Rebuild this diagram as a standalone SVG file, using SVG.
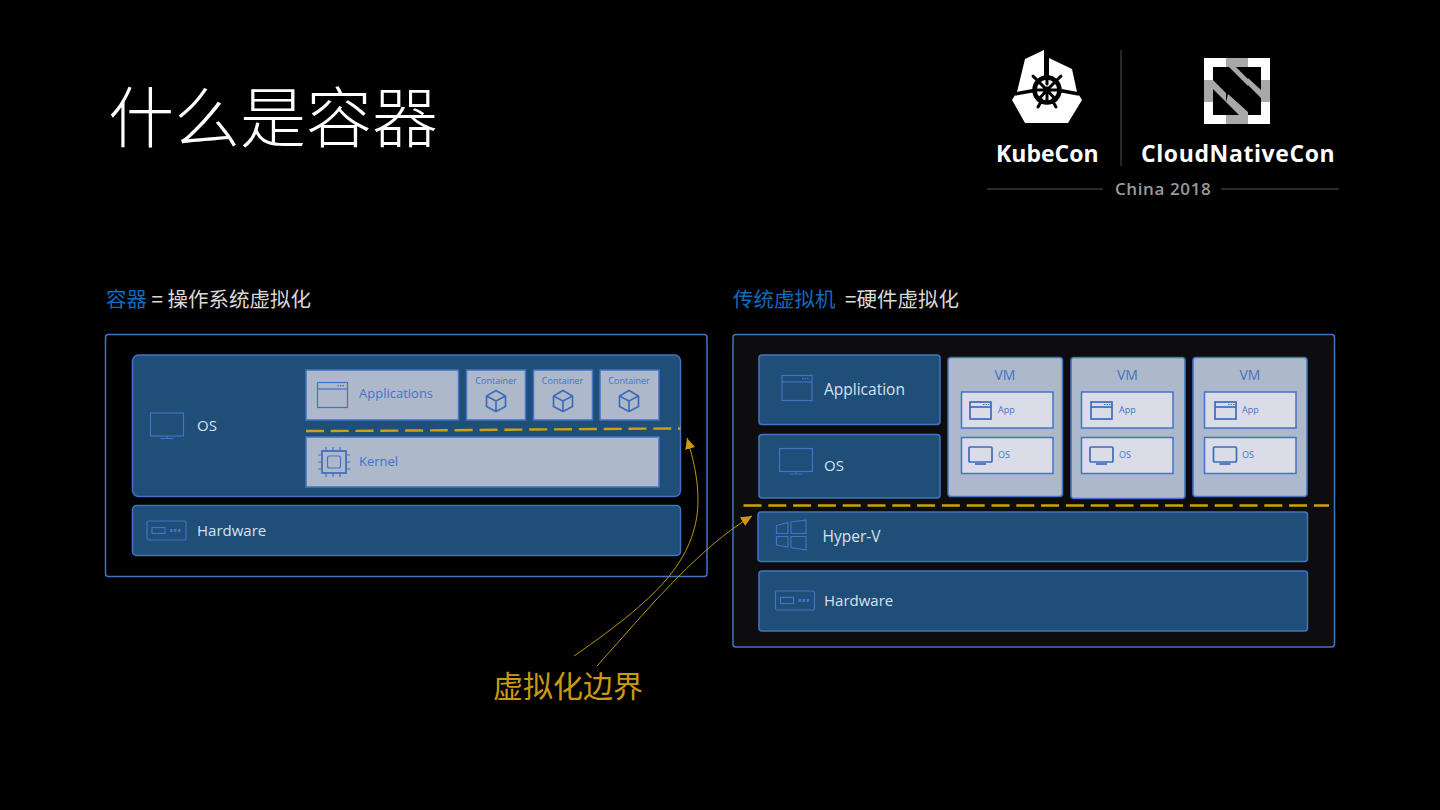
<svg xmlns="http://www.w3.org/2000/svg" width="1440" height="810" viewBox="0 0 1440 810">
<style>
text{font-family:"Open Sans","Noto Sans","Noto Sans CJK SC",sans-serif}
.cjk{font-family:"Noto Sans CJK SC","Noto Sans",sans-serif}
.b{fill:#1f4e79;stroke:#4472c4;stroke-width:1.5}
.g{fill:#adb9ca;stroke:#4472c4;stroke-width:1.5}
.l{fill:#dadde8;stroke:#4472c4;stroke-width:1.5}
.frame{stroke:#4472c4;stroke-width:1.5}
.wt{fill:#d9e2ec;font-size:15px}
.bt{fill:#4472c4;font-size:13px}
.ct{fill:#4472c4;font-size:9px;text-anchor:middle}
.vt{fill:#4472c4;font-size:14px;text-anchor:middle}
.st{fill:#4472c4;font-size:9px}
.ic{fill:none;stroke:#4472c4;stroke-width:1.2}
.ich{fill:none;stroke:#3f6cb8;stroke-width:1.7}
.dash{fill:none;stroke:#cfa010;stroke-width:2.400;stroke-dasharray:18 6.800}
.lead{fill:none;stroke:#b8960f;stroke-width:1}
</style>
<defs>
<marker id="ah" markerWidth="12" markerHeight="12" refX="11" refY="5" orient="auto" markerUnits="userSpaceOnUse"><path d="M0 0L11 5L0 10Z" fill="#c99a10"/></marker>
<g id="win"><rect x="0" y="0" width="30" height="25" class="ic"/><path d="M0 6.500H30" class="ic"/><path d="M20 3.200h7" class="ic" stroke-width="2" stroke-dasharray="1.500 1"/></g>
<g id="winh"><rect x="0" y="0" width="21" height="17" class="ich"/><path d="M0 5H21" class="ich"/><path d="M13 2.500h7" class="ic" stroke-width="2" stroke-dasharray="1.500 1"/></g>
<g id="mon"><rect x="0" y="0" width="33" height="23" class="ic"/><path d="M10 25.500H23M16.500 23V25.500" class="ic"/></g>
<g id="monh"><rect x="0" y="0" width="23" height="15" rx="1" class="ich"/><path d="M6 17H17" class="ich" stroke-width="2"/></g>
<g id="hw"><rect x="0" y="0" width="39" height="19" rx="1.500" class="ic"/><rect x="5" y="6.500" width="13" height="6" class="ic"/><path d="M23 9.500h11" fill="none" stroke="#4472c4" stroke-width="3" stroke-dasharray="2.500 1.500"/></g>
<g id="cube"><path d="M0 5.500L9.500 0L19 5.500V16L9.500 21L0 16ZM0 5.500L9.500 10.500L19 5.500M9.500 10.500V21" class="ich"/></g>
</defs>
<rect width="1440" height="810" fill="#000"/>

<g id="title">
<text class="cjk" x="108" y="142" font-size="66" font-weight="300" fill="#fff">什么是容器</text>
</g>

<g id="logo">
<path d="M1044 50L1025 59L1017 92L1012 100L1025 123H1068L1082 100L1077 92L1072 69L1049 58L1049 76H1044Z" fill="#fff"/>
<path d="M1046.500 50V72M1015 94L1034 90.500M1079 94L1060 90.500" stroke="#000" stroke-width="3.500" fill="none"/>
<circle cx="1047" cy="90" r="12.500" fill="#fff" stroke="#000" stroke-width="4.500"/>
<path d="M1033 76L1040 83M1061 76L1054 83M1038 107L1042 100M1056 107L1052 100M1047 72V84M1034 90H1060M1047 90V102M1047 90L1038 100M1047 90L1056 100M1047 90L1038 81M1047 90L1056 81" stroke="#000" stroke-width="3" fill="none" stroke-linecap="round"/>
<circle cx="1047" cy="90" r="3.500" fill="#000"/>
<path d="M1121 50V166" stroke="#444" stroke-width="1.200"/>
<rect x="1204" y="58" width="66" height="66" fill="#fff"/>
<rect x="1226" y="58" width="22" height="66" fill="#a8a8a8"/>
<rect x="1204" y="80" width="66" height="22" fill="#a8a8a8"/>
<rect x="1213" y="67" width="48" height="48" fill="#000"/>
<path d="M1229 67L1248 86V79L1236 67ZM1213 80L1226 93V102L1213 89ZM1248 85L1261 98V90L1248 78ZM1226 102L1239 115H1248V112L1228 94Z" fill="#a8a8a8"/>
<text x="996" y="162" font-size="23" font-weight="700" fill="#fff">KubeCon</text>
<text x="1141" y="162" font-size="23" font-weight="700" fill="#fff" letter-spacing=".6">CloudNativeCon</text>
<text x="1115" y="195" font-size="17" font-weight="600" fill="#9a9a9a" letter-spacing=".6">China 2018</text>
<path d="M987 189H1103M1221 189H1339" stroke="#555" stroke-width="1"/>
</g>

<g id="heading-left"><text class="cjk" x="106" y="307" font-size="20.500" fill="#d9d9d9"><tspan fill="#0f6cbd">容器</tspan> = 操作系统虚拟化</text></g>
<g id="heading-right"><text class="cjk" x="733" y="307" font-size="20.500" fill="#d9d9d9"><tspan fill="#0f6cbd">传统虚拟机</tspan><tspan x="845">=硬件虚拟化</tspan></text></g>

<g id="container-panel"><rect x="105.500" y="334.500" width="601.500" height="242" rx="3" fill="#000" class="frame"/></g>
<g id="vm-panel"><rect x="733" y="334.500" width="601.500" height="312.500" rx="3" fill="#0d0d0f" class="frame"/></g>

<g id="left-os"><rect x="132.500" y="355" width="548" height="141.500" rx="6" class="b"/><use href="#mon" x="150.500" y="413"/><text class="wt" x="197" y="431">OS</text></g>
<g id="left-apps"><rect x="306" y="370" width="152.500" height="50" class="g"/><use href="#win" x="317.500" y="382.500"/><text class="bt" x="359" y="398">Applications</text></g>
<g id="c1"><rect x="466.500" y="370" width="59" height="50" class="g"/><text class="ct" x="496" y="384">Container</text><use href="#cube" x="486.500" y="390.500"/></g>
<g id="c2"><rect x="533.500" y="370" width="59" height="50" class="g"/><text class="ct" x="562.500" y="384">Container</text><use href="#cube" x="553.500" y="390.500"/></g>
<g id="c3"><rect x="600" y="370" width="59" height="50" class="g"/><text class="ct" x="629" y="384">Container</text><use href="#cube" x="619.500" y="390.500"/></g>
<g id="kernel"><rect x="306" y="437" width="353" height="50" class="g"/>
<rect x="322" y="451" width="24" height="22" class="ich"/><rect x="327.500" y="456" width="13" height="12" rx="2" class="ic"/>
<path d="M326 447V451M333 447V451M340 447V451M326 473V477M333 473V477M340 473V477M318 455H322M318 462H322M318 469H322M346 455H350M346 462H350M346 469H350" class="ic"/>
<text class="bt" x="359" y="466">Kernel</text></g>
<g id="left-hw"><rect x="132.500" y="505.500" width="548" height="50" rx="4" class="b"/><use href="#hw" x="147" y="521"/><text class="wt" x="197" y="536">Hardware</text></g>

<g id="right-app"><rect x="759" y="355" width="181" height="69.500" rx="3" class="b"/><use href="#win" x="782" y="375.500"/><text class="wt" x="824" y="395" style="font-size:15.500px">Application</text></g>
<g id="right-os"><rect x="759" y="434.500" width="181" height="63.500" rx="3" class="b"/><use href="#mon" x="779.500" y="448.500"/><text class="wt" x="824" y="471">OS</text></g>
<g id="vm1"><rect x="948" y="357.500" width="114.500" height="139" rx="3" class="g"/><text class="vt" x="1005" y="380">VM</text>
<rect x="961.500" y="392" width="91.500" height="36" class="l"/><use href="#winh" x="970" y="402"/><text class="st" x="998" y="413">App</text>
<rect x="961.500" y="437.500" width="91.500" height="36" class="l"/><use href="#monh" x="969" y="447"/><text class="st" x="998" y="458">OS</text></g>
<g id="vm2"><rect x="1071" y="357.500" width="114" height="141" rx="3" class="g"/><text class="vt" x="1127.500" y="380">VM</text>
<rect x="1081.500" y="392" width="91.500" height="36" class="l"/><use href="#winh" x="1091" y="402"/><text class="st" x="1119" y="413">App</text>
<rect x="1081.500" y="437.500" width="91.500" height="36" class="l"/><use href="#monh" x="1090" y="447"/><text class="st" x="1119" y="458">OS</text></g>
<g id="vm3"><rect x="1193" y="357.500" width="114" height="139" rx="3" class="g"/><text class="vt" x="1250" y="380">VM</text>
<rect x="1204.500" y="392" width="91.500" height="36" class="l"/><use href="#winh" x="1215" y="402"/><text class="st" x="1242" y="413">App</text>
<rect x="1204.500" y="437.500" width="91.500" height="36" class="l"/><use href="#monh" x="1213.500" y="447"/><text class="st" x="1242" y="458">OS</text></g>
<g id="hyperv"><rect x="758" y="512" width="549.500" height="49.500" rx="3" class="b"/>
<path d="M776.500 525.500L788 522.500V533.500H776.500ZM791 522L806 520V533.500H791ZM776.500 536.500H788V547L776.500 545ZM791 536.500H806V550L791 547.500Z" class="ic"/>
<text class="wt" x="822.500" y="542" style="font-size:15.500px">Hyper-V</text></g>
<g id="right-hw"><rect x="759" y="571" width="548.500" height="60" rx="3" class="b"/><use href="#hw" x="775.500" y="591"/><text class="wt" x="824" y="606">Hardware</text></g>

<g id="connectors">
<path d="M306 431C400 431 560 429 680.500 428.500" class="dash"/>
<path d="M743.500 505.500H1329" class="dash"/>
<path d="M574 656C620 624 650 600 670 575C690 550 698 525 698 500C698 478 693 458 687 438" class="lead" marker-end="url(#ah)"/>
<path d="M597 666C625 635 650 605 678 577C700 555 725 532 752 516" class="lead" marker-end="url(#ah)"/>
</g>
<g id="boundary-label"><text class="cjk" x="493" y="697" font-size="30" fill="#c99a10">虚拟化边界</text></g>
</svg>
